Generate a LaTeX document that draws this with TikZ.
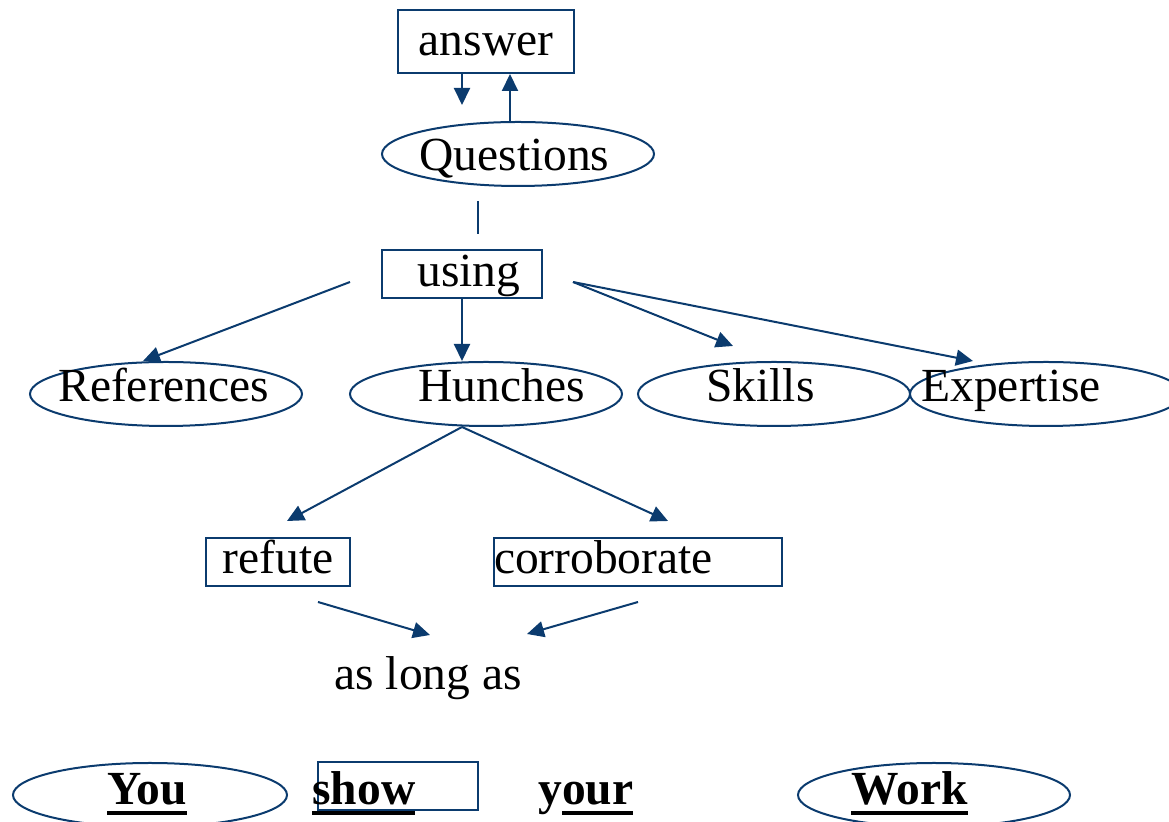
\documentclass[tikz,border=0pt]{standalone}
\usepackage{fontspec}
\setmainfont{Liberation Serif}
\usetikzlibrary{shapes.geometric,arrows.meta}
\definecolor{linkblue}{HTML}{0B3B6E}
\newcommand{\ulword}[1]{\setbox0\hbox{#1}\rlap{\rule[-5pt]{\wd0}{2pt}}\box0}

\begin{document}
\begin{tikzpicture}[x=0.5pt, y=-0.5pt,
    font=\fontsize{23.75}{28}\selectfont,
    box/.style={draw=linkblue, line width=1pt, inner sep=0pt},
    oval/.style={ellipse, draw=linkblue, line width=1pt, inner sep=0pt,
      minimum width=136pt, minimum height=32pt},
    word/.style={anchor=base west, inner sep=0pt},
    arr/.style={draw=linkblue, line width=1pt, -{Triangle[length=8.5pt,width=8pt]}},
    link/.style={draw=linkblue, line width=1pt}]
  \useasboundingbox (0,0) rectangle (1169,822);

  % Top: answer and questions
  \node[box, minimum width=88pt, text height=23pt, text depth=8.5pt] (answer) at (486,41.5) {answer};
  \node[oval] (quest) at (518,154) {};
  \node[word] (questT) at (419,171) {Questions};
  \coordinate (ansTip) at (462,105);
  \draw[arr] (ansTip |- answer.south) -- (ansTip);
  \draw[arr] ([xshift=-4pt]quest.north) -- ([xshift=-4pt]quest.north |- answer.south);
  \coordinate (qlineA) at (478,201);
  \coordinate (qlineB) at (478,234);
  \draw[link] (qlineA) -- (qlineB);

  % using and its four branches
  \node[box, minimum width=80pt, text height=18.5pt, text depth=5.5pt] (using) at (462,274) {\hspace*{7pt}using};
  \node[oval] (refs) at (166,394) {};
  \node[oval] (hunch) at (486,394) {};
  \node[oval] (skills) at (774,394) {};
  \node[oval] (expert) at (1046,394) {};
  \node[word] (refsT) at (58,402) {References};
  \node[word] (hunchT) at (418,402) {Hunches};
  \node[word] (skillsT) at (706,402) {Skills};
  \node[word] (expertT) at (921,402) {Expertise};
  \coordinate (usingL) at (350,282);
  \coordinate (usingR) at (573,282);
  \coordinate (skillsTip) at (733,346);
  \draw[arr] (usingL) -- ([xshift=-11.5pt]refs.north);
  \draw[arr] (using.south) -- (using.south |- hunch.north);
  \draw[arr] (usingR) -- (skillsTip);
  \draw[arr] (usingR) -- ([xshift=-36.5pt]expert.north);

  % refute / corroborate
  \node[box, minimum width=72pt, text height=18pt, text depth=6pt] (refute) at (278,562) {refute};
  \node[box, text width=144pt, align=left, text height=18pt, text depth=6pt] (corrob) at (638,562) {corroborate};
  \coordinate (refuteTip) at (287,521);
  \coordinate (corrobTip) at (668,521);
  \draw[arr] ([xshift=-12pt]hunch.south) -- (refuteTip);
  \draw[arr] ([xshift=-12pt]hunch.south) -- (corrobTip);
  \node[word] (aslong) at (334,690) {as long as};
  \coordinate (refuteOut) at (318,602);
  \coordinate (corrobOut) at (638,602);
  \coordinate (aslongL) at (430,635);
  \coordinate (aslongR) at (527,634);
  \draw[arr] (refuteOut) -- (aslongL);
  \draw[arr] (corrobOut) -- (aslongR);

  % Bottom line
  \node[oval, minimum width=137pt] (you) at (150,795) {};
  \node[box, minimum width=80pt, minimum height=24pt] (showbox) at (398,786) {};
  \node[oval] (work) at (934,795) {};
  \node[word, font=\fontsize{23.75}{28}\selectfont\bfseries] (youT) at (107,805) {\ulword{You}};
  \node[word, font=\fontsize{23.75}{28}\selectfont\bfseries] (showT) at (312,805) {\ulword{show}};
  \node[word, font=\fontsize{23.75}{28}\selectfont\bfseries] (yourT) at (538,805) {y\ulword{our}};
  \node[word, font=\fontsize{23.75}{28}\selectfont\bfseries] (workT) at (851,805) {\ulword{Work}};
\end{tikzpicture}
\end{document}
